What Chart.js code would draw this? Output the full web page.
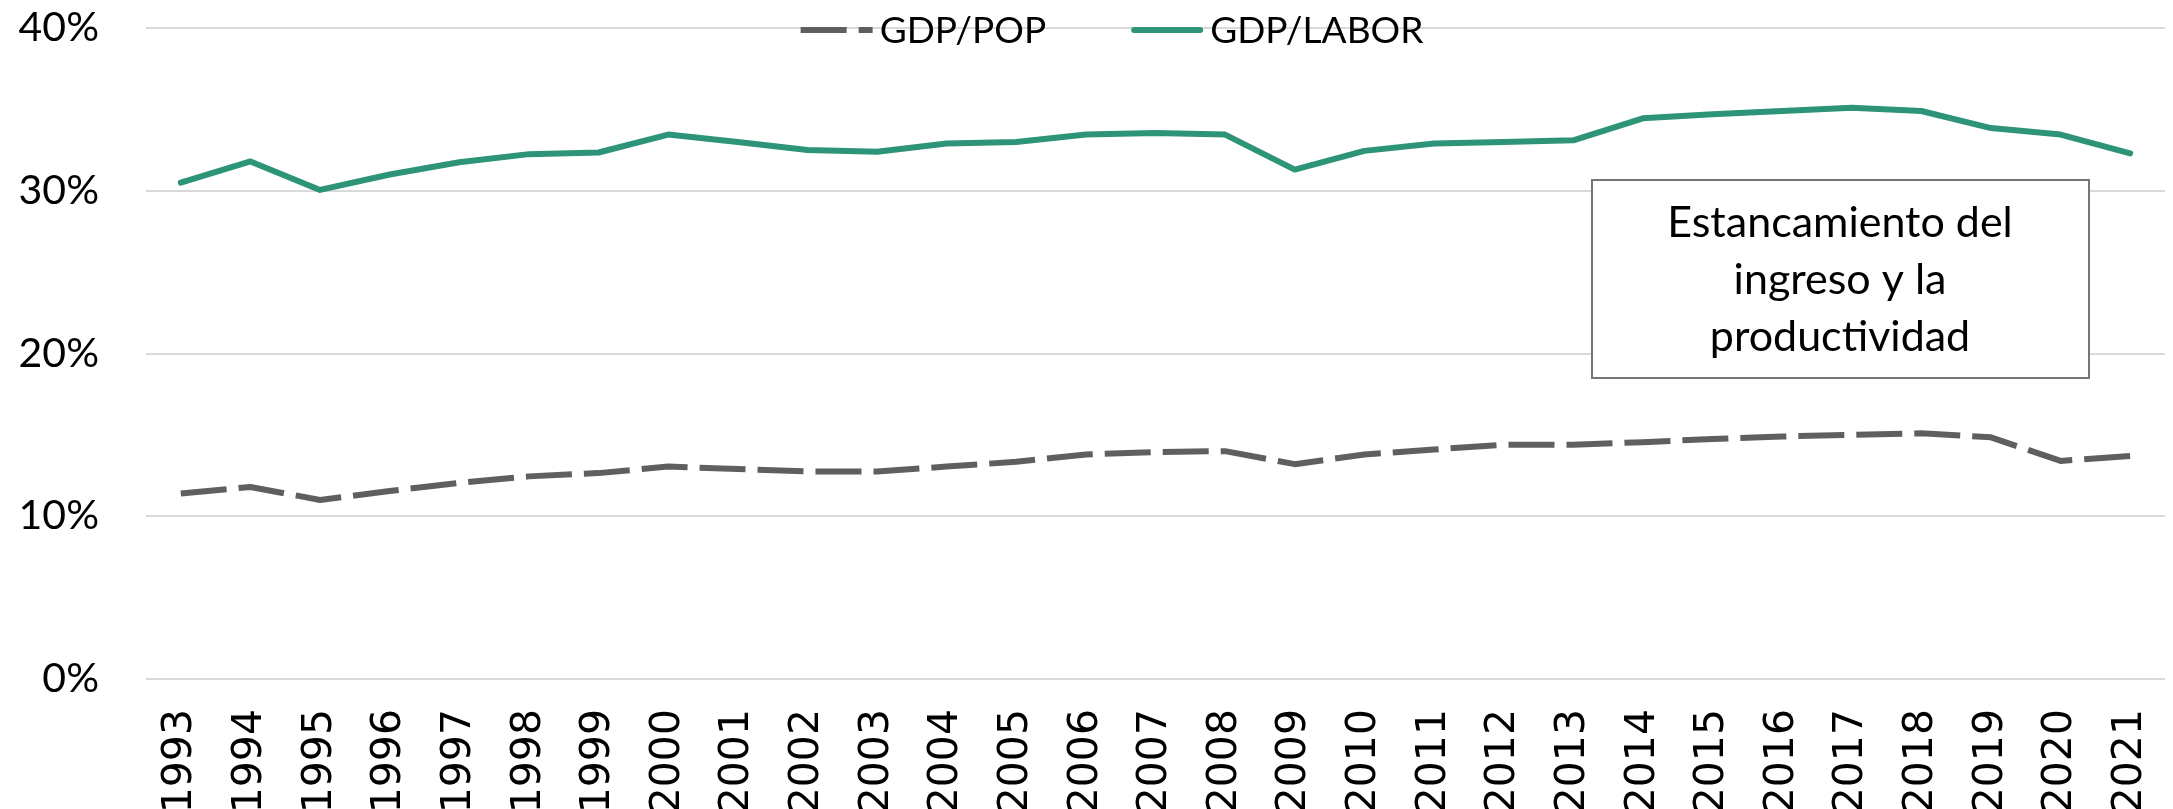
<!DOCTYPE html>
<html>
<head>
<meta charset="utf-8">
<script src="https://cdn.jsdelivr.net/npm/chart.js@4.4.1/dist/chart.umd.min.js"></script>
<style>
  html, body { margin: 0; padding: 0; background: #fff; }
  #wrap { width: 2173px; height: 809px; position: relative; }
</style>
</head>
<body>
<div id="wrap"><canvas id="graficoPib"></canvas></div>
<script>
// Datos
const anios = ["1993", "1994", "1995", "1996", "1997", "1998", "1999", "2000",
  "2001", "2002", "2003", "2004", "2005", "2006", "2007", "2008", "2009", "2010",
  "2011", "2012", "2013", "2014", "2015", "2016", "2017", "2018", "2019", "2020", "2021"];

const gdpPop = [11.4, 11.8, 11.0, 11.55, 12.05, 12.45, 12.65, 13.05, 12.9, 12.75,
  12.75, 13.05, 13.35, 13.8, 13.95, 14.0, 13.2, 13.8, 14.1, 14.4, 14.4, 14.55,
  14.75, 14.9, 15.0, 15.1, 14.85, 13.4, 13.7];

const gdpLabor = [30.5, 31.8, 30.05, 31.0, 31.75, 32.25, 32.35, 33.45, 33.0, 32.5,
  32.4, 32.9, 33.0, 33.45, 33.55, 33.45, 31.3, 32.45, 32.9, 33.0, 33.1, 34.45,
  34.7, 34.9, 35.1, 34.9, 33.85, 33.45, 32.3];

const nota = ["Estancamiento del", "ingreso y la", "productividad"];

// =============================
// PLUGINS
// =============================

// leyenda dibujada sobre la línea del 40%
const leyendaLinea = {
  id: "leyendaLinea",
  afterDraw(chart) {
    const ctx = chart.ctx;
    const muestra = 72;
    const hueco = 7;
    const entre = 85;
    ctx.save();
    ctx.font = "37px Lato";
    const items = chart.data.datasets.map((ds) => ({
      ds,
      w: ctx.measureText(ds.label).width,
    }));
    const total =
      items.reduce((s, it) => s + muestra + hueco + it.w, 0) +
      entre * (items.length - 1);
    let x = 1112 - total / 2;

    items.forEach((it) => {
      ctx.strokeStyle = it.ds.borderColor;
      ctx.lineWidth = it.ds.borderWidth;
      ctx.setLineDash(it.ds.borderDash || []);
      ctx.lineCap = it.ds.borderDash ? "butt" : "round";
      ctx.beginPath();
      ctx.moveTo(x + (it.ds.borderDash ? 0 : 3), 30);
      ctx.lineTo(x + muestra - (it.ds.borderDash ? 0 : 3), 30);
      ctx.stroke();
      ctx.setLineDash([]);
      x += muestra + hueco;
      ctx.fillStyle = "#000";
      ctx.textBaseline = "alphabetic";
      ctx.fillText(it.ds.label, x, 43);
      x += it.w + entre;
    });
    ctx.restore();
  },
};

// recuadro de texto
const recuadro = {
  id: "recuadro",
  afterDraw(chart) {
    const ctx = chart.ctx;
    ctx.save();
    ctx.fillStyle = "#fff";
    ctx.fillRect(1592, 180, 497, 198);
    ctx.strokeStyle = "#767676";
    ctx.lineWidth = 2;
    ctx.strokeRect(1592, 180, 497, 198);
    ctx.fillStyle = "#000";
    ctx.font = "43px Lato";
    ctx.textAlign = "center";
    ctx.textBaseline = "alphabetic";
    nota.forEach((linea, i) => {
      ctx.fillText(linea, 1840, 237 + i * 57);
    });
    ctx.restore();
  },
};

// =============================
// GRÁFICO
// =============================

const ctx = document.getElementById("graficoPib");

new Chart(ctx, {
  type: "line",
  data: {
    labels: anios,
    datasets: [
      {
        label: "GDP/POP",
        data: gdpPop,
        borderColor: "#5f5f5f",
        borderWidth: 6,
        borderDash: [46, 12],
        borderCapStyle: "butt",
        borderJoinStyle: "round",
        pointRadius: 0,
        tension: 0,
      },
      {
        label: "GDP/LABOR",
        data: gdpLabor,
        borderColor: "#2e9478",
        borderWidth: 6,
        borderCapStyle: "round",
        borderJoinStyle: "round",
        pointRadius: 0,
        tension: 0,
      },
    ],
  },
  options: {
    responsive: true,
    maintainAspectRatio: false,
    animation: false,
    devicePixelRatio: 1,
    layout: { padding: { left: 0, right: 8, top: 0, bottom: 0 } },
    plugins: {
      legend: { display: false },
      tooltip: { enabled: false },
    },
    scales: {
      x: {
        offset: true,
        grid: { display: false, drawTicks: false },
        border: { display: false },
        ticks: {
          autoSkip: false,
          minRotation: 90,
          maxRotation: 90,
          padding: 30,
          color: "#000",
          font: { family: "DejaVu Sans", size: 41 },
        },
        afterFit(scale) {
          scale.height = 130;
          scale.paddingLeft = 0;
          scale.paddingRight = 0;
        },
      },
      y: {
        min: 0,
        max: 40,
        grid: { color: "#d9d9d9", lineWidth: 2, drawTicks: false },
        border: { display: false },
        ticks: {
          stepSize: 10,
          padding: 47,
          color: "#000",
          font: { family: "Lato", size: 41 },
          callback: (v) => v + "%",
        },
        afterFit(scale) {
          scale.width = 146;
          scale.paddingTop = 28;
          scale.paddingBottom = 0;
        },
      },
    },
  },
  plugins: [leyendaLinea, recuadro],
});
</script>
</body>
</html>
